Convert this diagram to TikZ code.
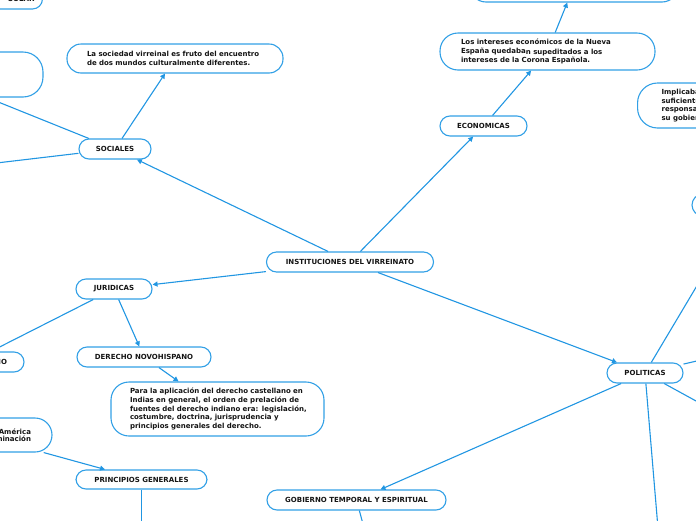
\documentclass[tikz,border=0pt]{standalone}
\usepackage{fontspec}
\setmainfont{DejaVu Sans}
\usetikzlibrary{arrows.meta}
\definecolor{edgecol}{RGB}{33,150,226}
\definecolor{bordcol}{RGB}{50,160,230}
\definecolor{txtcol}{RGB}{20,20,20}
\begin{document}
\begin{tikzpicture}[x=1pt,y=-1pt,
  box/.style={draw=bordcol, line width=1.1pt, fill=white, text=txtcol,
    font=\fontsize{7}{8.6}\selectfont\bfseries, inner sep=0pt,
    minimum height=20pt, rounded corners=10pt},
  arr/.style={draw=edgecol, line width=1.1pt, -{Triangle[length=5pt,width=5pt]}}]
\useasboundingbox (0,0) rectangle (696,520);
\clip (0,0) rectangle (696,520);

% main
\node[box, minimum width=167pt] (inst) at (350,262) {INSTITUCIONES DEL VIRREINATO};
% sociales branch
\node[box, minimum width=72pt] (soc) at (115,149) {SOCIALES};
\node[box, text width=176pt, inner xsep=20pt, minimum height=29pt, rounded corners=14pt, align=left] (socdesc) at (175,58.5) {La sociedad virreinal es fruto del encuentro\\de dos mundos culturalmente diferentes.};
\node[box, anchor=east, text width=84pt, inner xsep=8pt, align=right] (solar) at (43,-1) {SOLAR};
\node[box, minimum width=226pt, minimum height=45pt, rounded corners=20pt] (left2) at (-70,74.5) {};
\coordinate (sl) at (-100,174.4);
% economicas branch
\node[box, minimum width=87pt] (econ) at (483.5,126) {ECONOMICAS};
\node[box, text width=173pt, inner xsep=21pt, minimum height=37pt, rounded corners=18pt, align=left] (ecodesc) at (547.5,51.5) {Los intereses económicos de la Nueva\\España quedaba\raisebox{-1pt}{n supeditados a los}\\intereses de la Corona Española.};
\node[box, minimum width=208pt, minimum height=32pt, rounded corners=16pt] (topbox) at (574,-14) {};
\node[box, anchor=west, text width=160pt, inner xsep=24pt, minimum height=45pt, rounded corners=20pt, align=left] (impl) at (637,105.5) {Implicaba\\suficiente\\responsa\\su gobier};
% juridicas branch
\node[box, minimum width=76pt] (jur) at (114,289) {JURIDICAS};
\node[box, text width=74pt, inner xsep=17pt, align=right] (leftno) at (-30,362) {NO};
\node[box, minimum width=134pt] (derecho) at (144,357) {DERECHO NOVOHISPANO};
\node[box, text width=175pt, inner xsep=19pt, minimum height=54pt, rounded corners=18pt, align=left] (para) at (217.5,409) {\mbox{Para la aplicación del derecho castellano en}\\\mbox{Indias en general, el orden de prelación de}\\\mbox{fuentes del derecho indiano era: legislación,}\\\mbox{costumbre, doctrina, jurisprudencia y}\\\mbox{principios generales del derecho.}};
\node[box, text width=102pt, inner xsep=21pt, align=right, minimum height=34pt, rounded corners=17pt, font=\fontsize{7}{7.5}\selectfont\bfseries] (leftam) at (-20,435) {América\\minación};
\node[box, minimum width=131pt, minimum height=19pt] (princ) at (141.5,479.5) {PRINCIPIOS GENERALES};
\coordinate (pdown) at (141.5,600);
% politicas branch
\node[box, minimum width=76pt] (pol) at (645,373) {POLITICAS};
\node[box, minimum width=179pt] (gob) at (356.5,500) {GOBIERNO TEMPORAL Y ESPIRITUAL};
\node[box, minimum width=106pt, minimum height=22pt, rounded corners=11pt] (right2) at (745,205) {};
\coordinate (gdown) at (383.5,600);
\coordinate (poldown) at (664,600);
\coordinate (pr1) at (800,337);
\coordinate (pr2) at (800,458);

% connectors
\draw[arr] (inst) -- (soc);
\draw[arr] (inst) -- (econ);
\draw[arr] (inst) -- (jur);
\draw[arr] (inst) -- (pol);
\draw[arr] (soc) -- (socdesc);
\draw[arr] (soc) -- (left2);
\draw[arr] (soc) -- (sl);
\draw[arr] (econ) -- (ecodesc);
\draw[arr] (ecodesc) -- (topbox);
\draw[arr] (jur) -- (leftno);
\draw[arr] (jur) -- (derecho);
\draw[arr] (derecho) -- (para);
\draw[arr] (leftam) -- (princ);
\draw[arr] (princ) -- (pdown);
\draw[arr] (pol) -- (gob);
\draw[arr] (gob) -- (gdown);
\draw[arr] (pol) -- (poldown);
\draw[arr] (pol) -- (right2);
\draw[arr] (pol) -- (pr1);
\draw[arr] (pol) -- (pr2);
\end{tikzpicture}
\end{document}
